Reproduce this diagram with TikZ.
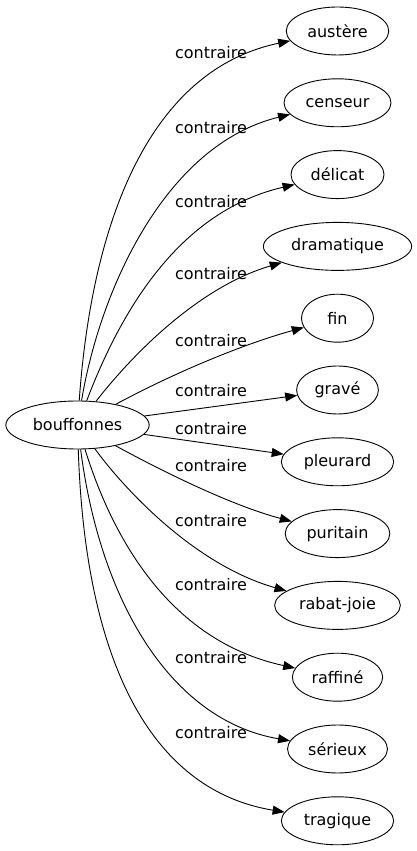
\documentclass[tikz,border=0pt]{standalone}
\usepackage{fontspec}
\setmainfont{DejaVu Sans}
\usetikzlibrary{shapes.geometric, arrows.meta, positioning}

\begin{document}
\begin{tikzpicture}[
    x=1pt, y=1pt,
    node distance=22.9pt,
    every node/.style={font=\fontsize{16}{19}\selectfont},
    word/.style={ellipse, draw, line width=0.9pt, inner xsep=6pt, inner ysep=0pt, minimum width=72pt, minimum height=48pt},
    rel/.style={inner sep=0pt},
    arrow/.style={-{Triangle[length=12pt, width=9pt]}, line width=0.9pt}
]
    \useasboundingbox (0,0) rectangle (416,851);

    % Source word
    \node[word] (bouffonnes) at (77.5,426) {bouffonnes};

    % Target words, stacked top to bottom
    \node[word] (austere) at (337.5,820) {austère};
    \node[word, below=of austere] (censeur) {censeur};
    \node[word, below=of censeur] (delicat) {délicat};
    \node[word, below=of delicat] (dramatique) {dramatique};
    \node[word, below=of dramatique] (fin) {fin};
    \node[word, below=of fin] (grave) {gravé};
    \node[word, below=of grave] (pleurard) {pleurard};
    \node[word, below=of pleurard] (puritain) {puritain};
    \node[word, below=of puritain] (rabatjoie) {rabat-joie};
    \node[word, below=of rabatjoie] (raffine) {raffiné};
    \node[word, below=of raffine] (serieux) {sérieux};
    \node[word, below=of serieux] (tragique) {tragique};

    % Relation edges
    \draw[arrow] (bouffonnes) .. controls (92,631) and (150,781) .. (austere);
    \draw[arrow] (bouffonnes) .. controls (100,561) and (165,706) .. (censeur);
    \draw[arrow] (bouffonnes) .. controls (125,551) and (185,641) .. (delicat);
    \draw[arrow] (bouffonnes) .. controls (140,506) and (205,566) .. (dramatique);
    \draw[arrow] (bouffonnes) .. controls (170,476) and (240,506) .. (fin);
    \draw[arrow] (bouffonnes) -- (grave);
    \draw[arrow] (bouffonnes) -- (pleurard);
    \draw[arrow] (bouffonnes) .. controls (160,381) and (230,346) .. (puritain);
    \draw[arrow] (bouffonnes) .. controls (125,361) and (195,286) .. (rabatjoie);
    \draw[arrow] (bouffonnes) .. controls (110,321) and (165,211) .. (raffine);
    \draw[arrow] (bouffonnes) .. controls (100,251) and (170,131) .. (serieux);
    \draw[arrow] (bouffonnes) .. controls (85,191) and (150,61) .. (tragique);

    % Edge labels
    \node[rel] (lab1) at (211,798) {contraire};
    \node[rel] (lab2) at (211,723) {contraire};
    \node[rel] (lab3) at (211,649) {contraire};
    \node[rel] (lab4) at (211,577) {contraire};
    \node[rel] (lab5) at (211,510) {contraire};
    \node[rel] (lab6) at (211,460) {contraire};
    \node[rel] (lab7) at (211,422) {contraire};
    \node[rel] (lab8) at (211,385) {contraire};
    \node[rel] (lab9) at (211,330) {contraire};
    \node[rel] (lab10) at (211,266) {contraire};
    \node[rel] (lab11) at (211,193) {contraire};
    \node[rel] (lab12) at (211,118) {contraire};
\end{tikzpicture}
\end{document}
